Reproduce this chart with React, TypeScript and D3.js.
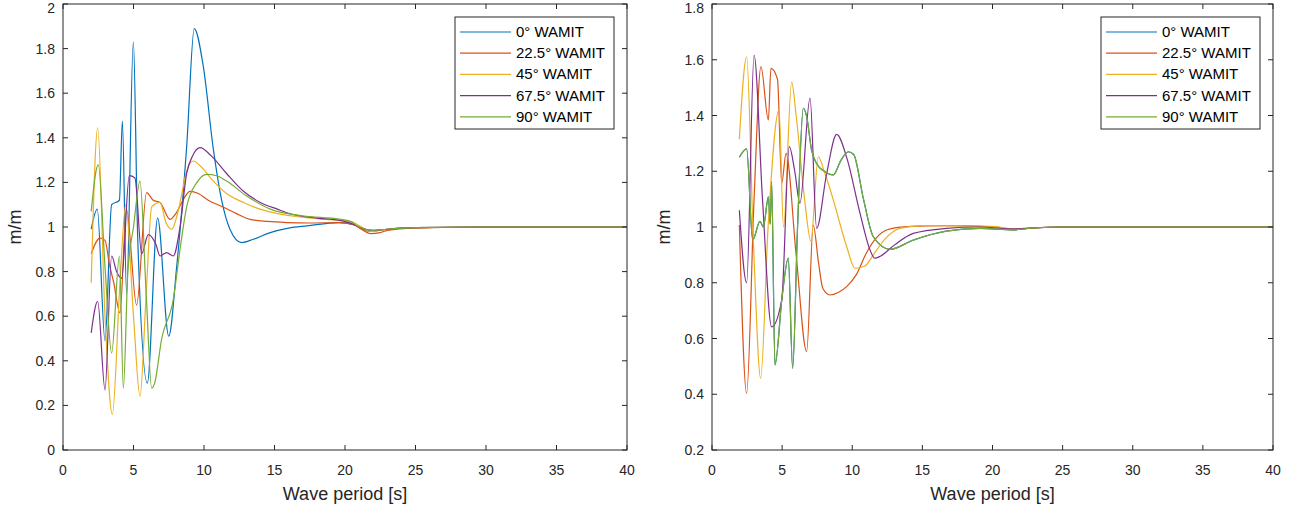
import React from "react";
import * as d3 from "d3";

// ---------- data ----------
const seriesNames = ["0° WAMIT", "22.5° WAMIT", "45° WAMIT", "67.5° WAMIT", "90° WAMIT"];
const seriesColors = ["#0072BD", "#D95319", "#EDB120", "#7E2F8E", "#77AC30"];

const xTicks = [0, 5, 10, 15, 20, 25, 30, 35, 40];
const leftYTicks = [0, 0.2, 0.4, 0.6, 0.8, 1, 1.2, 1.4, 1.6, 1.8, 2];
const rightYTicks = [0.2, 0.4, 0.6, 0.8, 1, 1.2, 1.4, 1.6, 1.8];

// Left panel: [wave period, m/m]
const left0: [number, number][] = [
  [2.0, 0.99], [2.43, 1.08], [2.98, 0.49], [3.45, 1.1], [4.0, 1.12], [4.21, 1.475], [4.51, 0.7],
  [4.99, 1.83], [5.3, 0.95], [5.98, 0.3], [6.71, 1.04], [7.5, 0.51], [8.06, 0.82], [8.77, 1.36],
  [9.31, 1.89], [9.95, 1.72], [10.66, 1.35], [11.25, 1.12], [11.84, 0.99], [12.67, 0.93],
  [13.5, 0.945], [14.7, 0.975], [16, 0.995], [17.3, 1.005], [19.6, 1.02], [20.6, 1.01],
  [21.3, 0.99], [21.8, 0.98], [23, 0.99], [25, 0.997], [30, 1.0], [40, 1.0],
];
const left22: [number, number][] = [
  [2.0, 0.88], [2.62, 0.95], [2.98, 0.94], [3.3, 0.83], [3.6, 0.75], [4.04, 0.615], [4.5, 1.08],
  [5.22, 0.65], [5.93, 1.154], [6.4, 1.12], [6.88, 1.11], [7.59, 1.034], [8.0, 1.06], [8.6, 1.13],
  [9.0, 1.16], [9.6, 1.15], [10.3, 1.12], [11.35, 1.09], [12.3, 1.06], [13.26, 1.034],
  [14.5, 1.025], [15.87, 1.02], [17.5, 1.018], [19.6, 1.02], [20.6, 1.01], [21.3, 0.985],
  [21.8, 0.97], [22.5, 0.975], [23, 0.985], [25, 0.995], [30, 1.0], [40, 1.0],
];
const left45: [number, number][] = [
  [2.0, 0.75], [2.46, 1.445], [2.98, 0.6], [3.5, 0.16], [4.04, 0.75], [4.45, 1.1], [5.0, 0.6],
  [5.46, 0.24], [5.9, 0.7], [6.29, 1.09], [6.88, 1.11], [7.3, 1.02], [7.71, 0.99], [8.2, 1.08],
  [8.77, 1.25], [9.24, 1.296], [9.8, 1.27], [10.6, 1.21], [11.6, 1.15], [12.8, 1.11],
  [13.97, 1.08], [15.2, 1.06], [16.8, 1.045], [18.5, 1.035], [19.6, 1.03], [20.6, 1.02],
  [21.3, 0.995], [21.8, 0.98], [23, 0.99], [25, 0.997], [30, 1.0], [40, 1.0],
];
const left67: [number, number][] = [
  [2.0, 0.525], [2.46, 0.667], [2.98, 0.27], [3.45, 0.87], [3.8, 0.8], [4.16, 0.77], [4.7, 1.23],
  [5.1, 1.22], [5.58, 0.88], [6.05, 0.966], [6.6, 0.92], [6.88, 0.87], [7.35, 0.885], [7.82, 0.87],
  [8.3, 1.0], [8.77, 1.24], [9.2, 1.32], [9.72, 1.356], [10.5, 1.32], [11.6, 1.24], [12.8, 1.16],
  [14.0, 1.11], [15.2, 1.08], [16.3, 1.056], [18, 1.04], [19.6, 1.03], [20.5, 1.015], [21, 1.0],
  [22, 0.985], [23, 0.99], [25, 0.997], [30, 1.0], [40, 1.0],
];
const left90: [number, number][] = [
  [2.0, 1.07], [2.5, 1.28], [3.0, 0.8], [3.45, 0.435], [4.0, 0.87], [4.28, 0.277], [4.6, 0.8],
  [5.0, 1.0], [5.46, 1.206], [5.9, 0.7], [6.29, 0.277], [6.5, 0.3], [7.0, 0.5], [7.82, 0.674],
  [8.3, 0.9], [8.77, 1.09], [9.5, 1.2], [10.2, 1.236], [10.9, 1.23], [11.6, 1.206], [13.0, 1.14],
  [14.7, 1.08], [17.0, 1.05], [19.6, 1.035], [20.4, 1.025], [21, 1.0], [22, 0.985], [23, 0.99],
  [25, 0.997], [30, 1.0], [40, 1.0],
];

// Right panel: [wave period, m/m]
const right0: [number, number][] = [
  [1.95, 1.25], [2.47, 1.28], [2.9, 0.953], [3.42, 1.02], [3.66, 1.0], [4.02, 1.108], [4.15, 1.01],
  [4.25, 1.163], [4.49, 0.505], [5.0, 0.75], [5.44, 0.888], [5.75, 0.493], [6.1, 1.0], [6.51, 1.426],
  [6.75, 1.396], [7.1, 1.276], [7.46, 1.228], [8.0, 1.2], [8.65, 1.187], [9.2, 1.24], [9.72, 1.27],
  [10.1, 1.26], [10.8, 1.1], [11.5, 0.965], [12.7, 0.92], [14.35, 0.953], [16.7, 0.985],
  [19.1, 0.995], [21.5, 0.99], [23, 0.997], [25, 1.0], [40, 1.0],
];
const right22: [number, number][] = [
  [1.95, 1.007], [2.47, 0.403], [3.0, 1.1], [3.49, 1.575], [4.02, 1.384], [4.2, 1.569], [4.67, 1.53],
  [4.97, 1.157], [5.28, 1.264], [6.0, 0.9], [6.75, 0.553], [7.22, 1.007], [7.6, 0.87], [7.9, 0.78],
  [8.41, 0.756], [9.0, 0.765], [9.6, 0.786], [10.3, 0.83], [11.0, 0.906], [11.7, 0.96],
  [12.5, 0.99], [13.9, 1.001], [16.7, 1.005], [20.3, 1.0], [21.5, 0.99], [22.5, 0.995], [25, 1.0],
  [40, 1.0],
];
const right45: [number, number][] = [
  [1.95, 1.315], [2.47, 1.61], [2.95, 0.95], [3.47, 0.457], [4.0, 1.0], [4.78, 1.42], [5.1, 1.0],
  [5.68, 1.52], [6.0, 1.4], [6.6, 1.1], [7.05, 0.95], [7.58, 1.252], [8.0, 1.2], [8.65, 1.097],
  [9.6, 0.93], [10.2, 0.852], [10.9, 0.86], [11.5, 0.9], [12.3, 0.955], [13.4, 0.995], [15, 1.005],
  [20, 1.002], [21.5, 0.993], [23, 0.997], [25, 1.0], [40, 1.0],
];
const right67: [number, number][] = [
  [1.95, 1.06], [2.47, 0.8], [3.0, 1.617], [3.6, 1.1], [4.25, 0.642], [4.97, 0.738], [5.51, 1.288],
  [5.9, 1.2], [6.27, 1.085], [6.99, 1.462], [7.46, 0.995], [8.17, 1.19], [8.89, 1.332], [9.6, 1.25],
  [10.55, 1.05], [11.27, 0.917], [11.6, 0.888], [12.0, 0.895], [13.0, 0.935], [14.35, 0.977],
  [16.7, 0.995], [19.1, 1.0], [21.5, 0.993], [23, 0.997], [25, 1.0], [40, 1.0],
];
const right90: [number, number][] = [
  [1.95, 1.25], [2.47, 1.28], [2.9, 0.953], [3.42, 1.02], [3.66, 1.0], [4.02, 1.108], [4.15, 1.01],
  [4.25, 1.163], [4.49, 0.505], [5.0, 0.75], [5.44, 0.888], [5.75, 0.493], [6.1, 1.0], [6.51, 1.426],
  [6.75, 1.396], [7.1, 1.276], [7.46, 1.228], [8.0, 1.2], [8.65, 1.187], [9.2, 1.24], [9.72, 1.27],
  [10.1, 1.26], [10.8, 1.1], [11.5, 0.965], [12.7, 0.92], [14.35, 0.953], [16.7, 0.985],
  [19.1, 0.995], [21.5, 0.99], [23, 0.997], [25, 1.0], [40, 1.0],
];

const leftSeries = [left0, left22, left45, left67, left90];
const rightSeries = [right0, right22, right45, right67, right90];

// ---------- layout ----------
const W = 1304;
const H = 512;
const TOP = 4;
const BOTTOM = 450;
const FONT = "'Liberation Sans', Arial, Helvetica, sans-serif";
const AX = "#262626";

const panels = [
  { id: "l", x0: 63, x1: 627, yDomain: [0, 2], yTicks: leftYTicks, series: leftSeries },
  { id: "r", x0: 712, x1: 1273, yDomain: [0.2, 1.8], yTicks: rightYTicks, series: rightSeries },
];

function fmt(v: number) {
  return String(+v.toFixed(1));
}

function Panel({ p }: { p: (typeof panels)[number] }) {
  const x = d3.scaleLinear().domain([0, 40]).range([p.x0, p.x1]);
  const y = d3.scaleLinear().domain(p.yDomain).range([BOTTOM, TOP]);
  const line = d3
    .line<[number, number]>()
    .x((d) => x(d[0]))
    .y((d) => y(d[1]))
    .curve(d3.curveMonotoneX);
  const tl = 5;
  const lx = p.x1 - 172;
  const ly = 17;
  return (
    <g>
      <defs>
        <clipPath id={`clip-${p.id}`}>
          <rect x={p.x0} y={TOP} width={p.x1 - p.x0} height={BOTTOM - TOP} />
        </clipPath>
      </defs>
      <rect x={p.x0} y={TOP} width={p.x1 - p.x0} height={BOTTOM - TOP} fill="#fff" />
      <g clipPath={`url(#clip-${p.id})`}>
        {p.series.map((s, i) => (
          <path key={i} d={line(s) || ""} fill="none" stroke={seriesColors[i]} strokeWidth={1.2} />
        ))}
      </g>
      {/* frame */}
      <rect x={p.x0} y={TOP} width={p.x1 - p.x0} height={BOTTOM - TOP} fill="none" stroke={AX} strokeWidth={1} />
      {/* x ticks */}
      {xTicks.map((t) => (
        <g key={`x${t}`}>
          <line x1={x(t)} x2={x(t)} y1={BOTTOM} y2={BOTTOM - tl} stroke={AX} />
          <line x1={x(t)} x2={x(t)} y1={TOP} y2={TOP + tl} stroke={AX} />
          <text x={x(t)} y={475} textAnchor="middle" fontSize={14} fill={AX} fontFamily={FONT}>
            {t}
          </text>
        </g>
      ))}
      {/* y ticks */}
      {p.yTicks.map((t) => (
        <g key={`y${t}`}>
          <line x1={p.x0} x2={p.x0 + tl} y1={y(t)} y2={y(t)} stroke={AX} />
          <line x1={p.x1} x2={p.x1 - tl} y1={y(t)} y2={y(t)} stroke={AX} />
          <text
            x={p.x0 - 8}
            y={Math.max(y(t) + 5, 13)}
            textAnchor="end"
            fontSize={14}
            fill={AX}
            fontFamily={FONT}
          >
            {fmt(t)}
          </text>
        </g>
      ))}
      {/* axis labels */}
      <text x={(p.x0 + p.x1) / 2} y={500} textAnchor="middle" fontSize={18} fill={AX} fontFamily={FONT}>
        Wave period [s]
      </text>
      <text
        transform={`translate(${p.x0 - 42},${(TOP + BOTTOM) / 2}) rotate(-90)`}
        textAnchor="middle"
        fontSize={18}
        fill={AX}
        fontFamily={FONT}
      >
        m/m
      </text>
      {/* legend */}
      <rect x={lx} y={ly} width={159} height={112} fill="#fff" stroke={AX} strokeWidth={1} />
      {seriesNames.map((n, i) => {
        const yy = ly + 15 + i * 21.2;
        return (
          <g key={n}>
            <line x1={lx + 5} x2={lx + 56} y1={yy} y2={yy} stroke={seriesColors[i]} strokeWidth={1.2} />
            <text x={lx + 61} y={yy + 5} fontSize={15} fill="#000" fontFamily={FONT}>
              {n}
            </text>
          </g>
        );
      })}
    </g>
  );
}

export default function App() {
  return (
    <svg
      width={W}
      height={H}
      style={{ position: "absolute", left: 0, top: 0, background: "#fff" }}
      xmlns="http://www.w3.org/2000/svg"
    >
      <rect width={W} height={H} fill="#fff" />
      {panels.map((p) => (
        <Panel key={p.id} p={p} />
      ))}
    </svg>
  );
}
